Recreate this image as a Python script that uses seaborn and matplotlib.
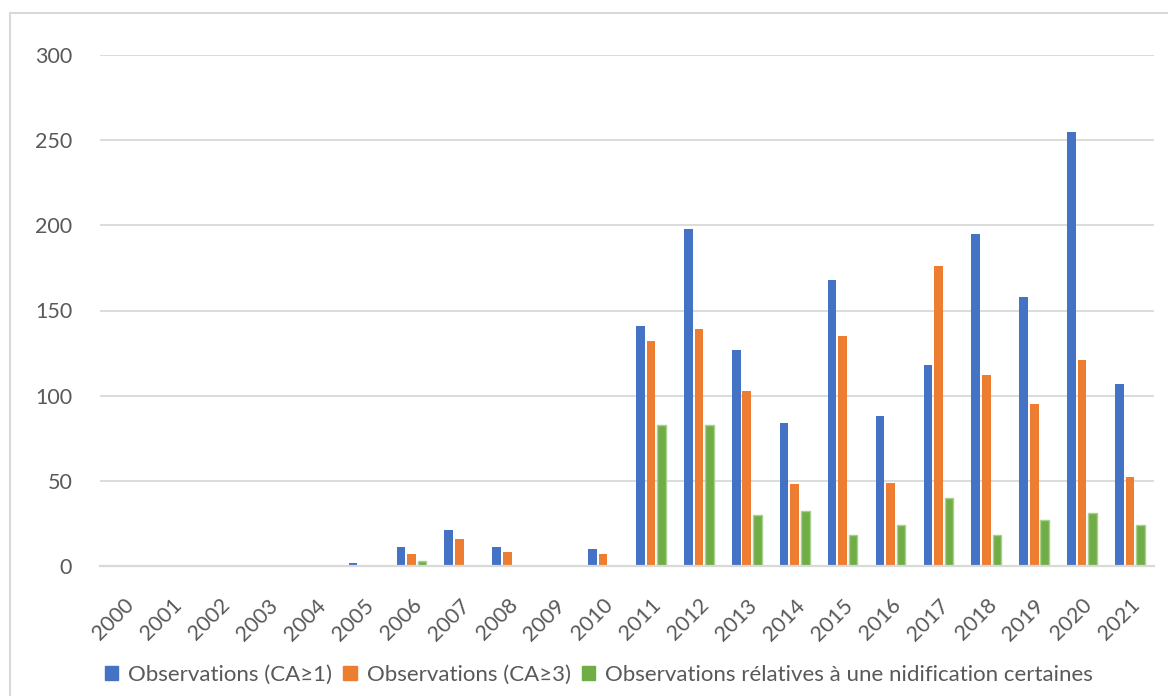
import matplotlib
matplotlib.use("Agg")
import matplotlib.pyplot as plt
import matplotlib.patches as mpatches
import seaborn as sns
import pandas as pd

years = [str(y) for y in range(2000, 2022)]
obs_ca1 = [0, 0, 0, 0, 0, 2, 11, 21, 11, 0, 10, 141, 198, 127, 84, 168, 88, 118, 195, 158, 255, 107]
obs_ca3 = [0, 0, 0, 0, 0, 0, 7, 16, 8, 0, 7, 132, 139, 103, 48, 135, 49, 176, 112, 95, 121, 52]
obs_nid = [0, 0, 0, 0, 0, 0, 3, 0, 0, 0, 0, 83, 83, 30, 32, 18, 24, 40, 18, 27, 31, 24]
series_names = [
    "Observations (CA\u22651)",
    "Observations (CA\u22653)",
    "Observations r\u00e9latives \u00e0 une nidification certaines",
]
y_ticks = [0, 50, 100, 150, 200, 250, 300]

colors = ["#4472C4", "#ED7D31", "#70AD47"]
edges = ["#4472C4", "#ED7D31", "#A9D18E"]
text_color = "#595959"
grid_color = "#D9D9D9"

df = pd.DataFrame({
    "year": years * 3,
    "value": obs_ca1 + obs_ca3 + obs_nid,
    "series": [series_names[0]] * len(years) + [series_names[1]] * len(years) + [series_names[2]] * len(years),
})

sns.set_theme(style="white")
plt.rcParams["font.family"] = ["Lato", "DejaVu Sans"]

fig = plt.figure(figsize=(11.68, 6.96), dpi=100)
W, H = 1168, 696
ax = fig.add_axes([100 / W, 1 - 566 / H, 1054 / W, 511 / H])

sns.barplot(data=df, x="year", y="value", hue="series", hue_order=series_names,
            palette=colors, width=0.66, gap=0.18, ax=ax, legend=False,
            saturation=1, errorbar=None)

# light outline on the green bars
n = len(years)
for i, bar in enumerate(ax.patches[:3 * n]):
    s = i // n
    bar.set_edgecolor(edges[s])
    bar.set_linewidth(1.0 if s == 2 else 0)

ax.set_ylim(0, 300)
ax.set_xlim(-0.5, n - 0.5)
ax.set_yticks(y_ticks)
ax.set_yticklabels([str(v) for v in y_ticks])
ax.yaxis.grid(True, color=grid_color, linewidth=1.3)
ax.set_axisbelow(True)
for side in ["top", "right", "left"]:
    ax.spines[side].set_visible(False)
ax.spines["bottom"].set_color(grid_color)
ax.spines["bottom"].set_linewidth(1.6)
ax.set_xlabel("")
ax.set_ylabel("")
ax.tick_params(axis="both", length=0, colors=text_color, labelsize=15.5)
ax.tick_params(axis="y", pad=20)
for lbl in ax.get_xticklabels():
    lbl.set_rotation(45)
    lbl.set_ha("right")
    lbl.set_rotation_mode("anchor")
ax.tick_params(axis="x", pad=21)

handles = [mpatches.Patch(facecolor=c, edgecolor=c) for c in colors]
fig.legend(handles, series_names, loc="center", bbox_to_anchor=(599 / W, 1 - 675 / H),
           ncol=3, frameon=False, fontsize=16, labelcolor=text_color,
           handlelength=0.6, handleheight=0.6, handletextpad=0.45, columnspacing=0.5)

# chart area border
fig.add_artist(plt.Line2D([10 / W, 10 / W], [0, 1 - 13 / H], transform=fig.transFigure,
                          color=grid_color, linewidth=1.5))
fig.add_artist(plt.Line2D([10 / W, 1], [1 - 13 / H, 1 - 13 / H], transform=fig.transFigure,
                          color=grid_color, linewidth=1.5))

fig.savefig("out.png", dpi=100, facecolor="white")
